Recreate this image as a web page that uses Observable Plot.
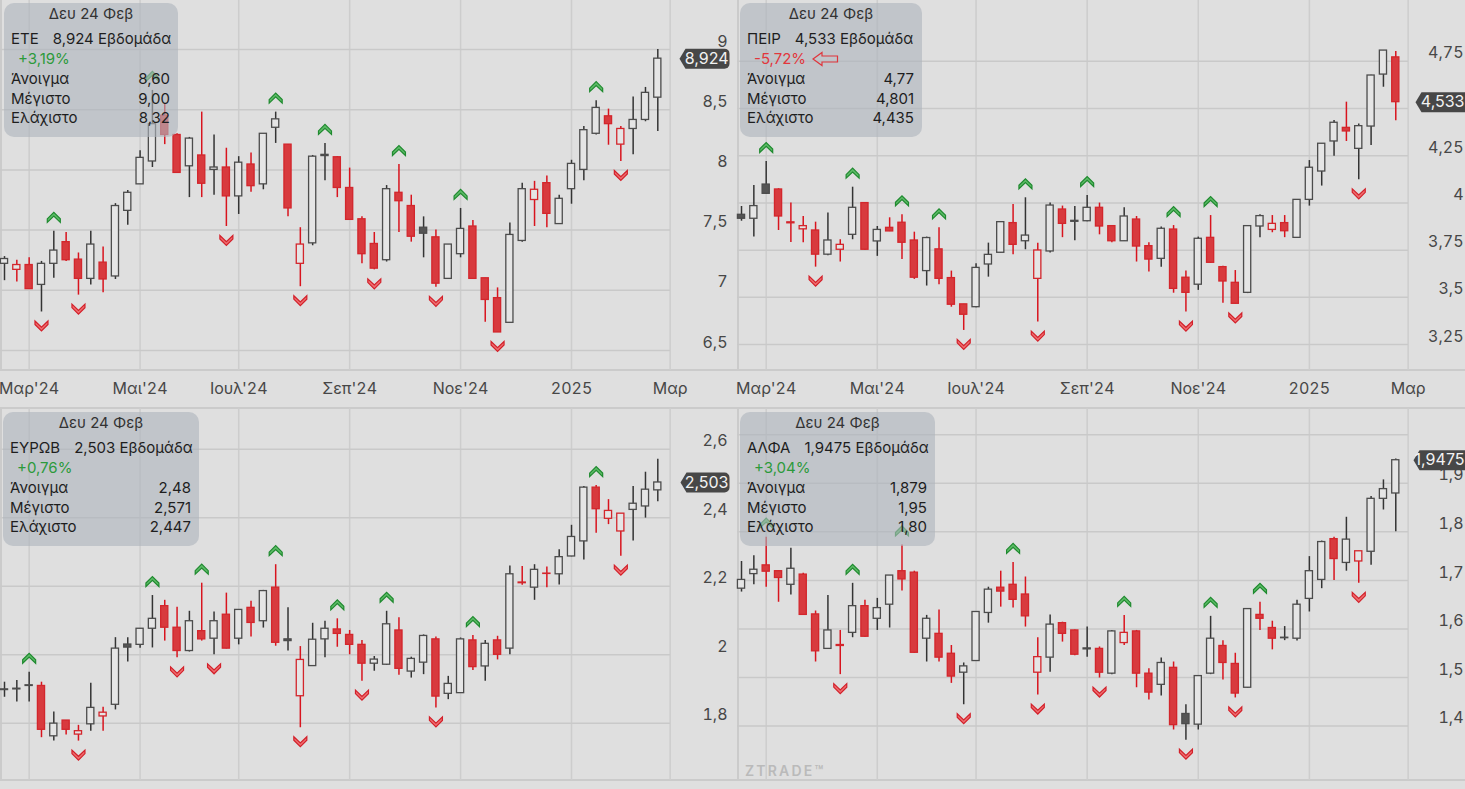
<!DOCTYPE html>
<html><head><meta charset="utf-8">
<script src="https://cdn.jsdelivr.net/npm/d3@7"></script>
<script src="https://cdn.jsdelivr.net/npm/@observablehq/plot@0.6"></script>
<style>
html,body{margin:0;padding:0;background:#dfdfdf;width:1465px;height:789px;overflow:hidden;font-family:Inter,"Noto Sans",sans-serif;}
#root{position:relative;width:1465px;height:789px;}
.panel{position:absolute;}
.hl{position:absolute;height:2px;background:#cbcbcb;}
.vl{position:absolute;width:2px;background:#cbcbcb;}
.box{position:absolute;border-radius:10px;background:rgba(174,181,189,0.62);color:#1e1e1e;font-size:15px;}
.box .ln{position:absolute;left:0;right:0;height:20px;line-height:20px;white-space:nowrap;}
.box .title{text-align:center;color:#333;}
.box .val{position:absolute;right:8px;top:0;}
.wm{position:absolute;left:745px;top:762px;font-size:14px;font-weight:600;letter-spacing:2.2px;color:#bababa;}
</style></head>
<body><div id="root"></div>
<script>
// ---------- shared axis data ----------
const monthIdx = [2, 11, 19, 28, 37, 46, 54];
const monthLabels = ["Μαρ'24", "Μαι'24", "Ιουλ'24", "Σεπ'24", "Νοε'24", "2025", "Μαρ"];

// ---------- ΕΤΕ ----------
const eteO = [7.22,7.17,7.21,7.045,7.22,7.40,7.255,7.095,7.23,7.115,7.66,7.88,8.07,8.45,8.29,8.03,8.12,8.00,8.02,7.78,8.045,7.88,8.35,8.21,7.22,7.39,8.125,8.105,7.85,7.59,7.385,7.25,7.81,7.70,7.52,7.44,7.095,7.30,7.53,7.10,6.935,6.73,7.41,7.75,7.89,7.55,7.84,8.00,8.30,8.445,8.21,8.34,8.415,8.60];
const eteH = [7.28,7.25,7.27,7.24,7.49,7.48,7.31,7.49,7.36,7.72,7.83,8.16,8.66,8.55,8.30,8.27,8.48,8.29,8.18,8.11,8.14,8.30,8.48,8.21,7.52,8.12,8.22,8.11,8.015,7.61,7.48,7.87,8.045,7.79,7.61,7.50,7.38,7.68,7.58,7.10,7.02,7.56,7.89,7.905,7.95,7.79,8.08,8.36,8.575,8.505,8.36,8.605,8.685,9.00];
const eteL = [7.08,7.07,7.01,6.82,7.10,7.24,6.96,7.045,6.98,7.09,7.54,7.88,8.02,8.21,7.97,7.77,7.77,7.79,7.53,7.63,7.815,7.835,8.22,7.61,7.03,7.37,7.91,7.77,7.585,7.22,7.17,7.235,7.48,7.40,7.27,7.025,7.09,7.27,7.095,6.735,6.65,6.73,7.40,7.53,7.52,7.55,7.715,7.91,8.29,8.205,8.07,8.125,8.40,8.32];
const eteC = [7.26,7.21,7.01,7.22,7.33,7.25,7.095,7.38,7.09,7.70,7.81,8.10,8.38,8.29,7.975,8.26,7.885,8.02,7.78,8.06,7.865,8.30,8.42,7.68,7.38,8.11,8.115,7.85,7.585,7.30,7.18,7.84,7.74,7.445,7.47,7.055,7.38,7.51,7.095,6.92,6.65,7.46,7.84,7.835,7.635,7.76,8.05,8.33,8.515,8.38,8.34,8.415,8.64,8.924];
const eteUp = [4,12,22,26,32,37,48];
const eteDown = [3,6,18,24,30,35,40,50];

// ---------- ΠΕΙΡ ----------
const peirO = [3.937,3.916,4.097,4.071,3.897,3.86,3.854,3.726,3.752,3.831,3.999,3.796,3.868,3.895,3.801,3.639,3.754,3.602,3.463,3.448,3.674,3.736,3.893,3.797,3.598,3.743,3.965,3.905,3.903,3.974,3.877,3.797,3.912,3.771,3.704,3.859,3.604,3.567,3.815,3.66,3.577,3.524,3.875,3.857,3.893,3.815,4.016,4.166,4.325,4.397,4.286,4.404,4.679,4.77];
const peirH = [3.981,4.092,4.219,4.075,3.999,3.928,3.898,3.946,3.805,4.083,4.0,3.875,3.921,3.937,3.845,3.819,3.868,3.639,3.463,3.678,3.787,3.90,3.991,4.027,3.787,3.999,3.983,3.981,4.039,3.999,3.88,3.974,3.928,3.789,3.872,3.88,3.639,3.819,3.933,3.665,3.642,3.88,3.937,3.933,3.933,4.016,4.224,4.313,4.436,4.533,4.418,4.675,4.806,4.801];
const peirL = [3.903,3.819,4.045,3.854,3.79,3.789,3.66,3.72,3.687,3.805,3.75,3.717,3.848,3.70,3.595,3.56,3.567,3.448,3.325,3.445,3.607,3.735,3.726,3.752,3.369,3.735,3.816,3.80,3.90,3.831,3.789,3.795,3.687,3.634,3.66,3.522,3.422,3.537,3.68,3.469,3.465,3.52,3.816,3.842,3.816,3.815,3.983,4.089,4.247,4.325,4.122,4.304,4.612,4.435];
const peirC = [3.916,3.983,4.048,3.928,3.892,3.877,3.726,3.801,3.778,3.974,3.752,3.857,3.849,3.789,3.604,3.814,3.598,3.461,3.408,3.656,3.725,3.898,3.778,3.827,3.748,3.986,3.889,3.90,3.974,3.875,3.797,3.928,3.769,3.70,3.863,3.545,3.524,3.81,3.683,3.584,3.466,3.877,3.93,3.889,3.85,4.016,4.186,4.313,4.424,4.378,4.406,4.674,4.806,4.533];
const peirUp = [2,9,13,16,23,28,35,38];
const peirDown = [6,18,24,36,40,50];

// ---------- ΕΥΡΩΒ ----------
const eurobO = [1.899,1.899,1.909,1.909,1.762,1.808,1.767,1.797,1.82,1.854,2.03,2.029,2.076,2.142,2.079,2.011,2.069,2.047,2.117,2.047,2.137,2.098,2.196,2.045,1.879,1.967,2.045,2.074,2.058,2.029,1.974,1.971,2.071,1.951,1.977,2.045,1.886,1.888,2.042,1.966,2.042,2.018,2.211,2.196,2.237,2.235,2.287,2.331,2.488,2.397,2.36,2.423,2.433,2.48];
const eurobH = [1.92,1.925,1.949,1.92,1.833,1.808,1.794,1.917,1.847,2.05,2.05,2.076,2.173,2.159,2.139,2.127,2.209,2.125,2.18,2.131,2.156,2.188,2.263,2.137,2.024,2.092,2.098,2.105,2.071,2.042,1.995,2.127,2.108,1.993,2.058,2.052,1.937,2.049,2.056,2.042,2.054,2.259,2.258,2.263,2.256,2.307,2.378,2.491,2.494,2.453,2.412,2.491,2.533,2.571];
const eurobL = [1.876,1.862,1.862,1.758,1.748,1.766,1.748,1.777,1.777,1.839,1.979,2.019,2.02,2.04,1.991,2.008,2.04,2.0,2.017,2.029,2.052,2.078,2.025,2.011,1.787,1.966,1.991,2.022,2.0,1.923,1.952,1.969,1.94,1.932,1.942,1.845,1.869,1.887,1.954,1.923,1.985,2.0,2.203,2.159,2.196,2.204,2.286,2.277,2.355,2.38,2.288,2.332,2.399,2.447];
const eurobC = [1.897,1.901,1.911,1.781,1.799,1.781,1.777,1.845,1.831,2.018,2.021,2.076,2.105,2.079,2.011,2.098,2.045,2.098,2.018,2.131,2.093,2.186,2.035,2.04,1.985,2.044,2.076,2.061,2.029,1.974,1.986,2.089,1.959,1.988,2.055,1.878,1.915,2.045,1.964,2.032,2.0,2.235,2.209,2.248,2.236,2.285,2.344,2.488,2.425,2.42,2.412,2.441,2.482,2.503];
const eurobUp = [2,12,16,22,27,31,38,48];
const eurobDown = [6,14,17,24,29,35,50];

// ---------- ΑΛΦΑ ----------
const alphaO = [1.683,1.713,1.731,1.719,1.691,1.712,1.63,1.559,1.567,1.592,1.647,1.621,1.65,1.719,1.716,1.58,1.59,1.549,1.51,1.534,1.633,1.685,1.691,1.671,1.51,1.541,1.612,1.597,1.56,1.559,1.508,1.571,1.595,1.508,1.485,1.52,1.425,1.403,1.508,1.565,1.528,1.479,1.629,1.602,1.582,1.58,1.662,1.701,1.785,1.736,1.739,1.759,1.868,1.879];
const alphaH = [1.739,1.751,1.789,1.72,1.766,1.715,1.637,1.669,1.597,1.694,1.659,1.663,1.71,1.773,1.719,1.628,1.639,1.566,1.53,1.635,1.686,1.719,1.737,1.707,1.582,1.629,1.614,1.598,1.604,1.563,1.597,1.628,1.597,1.518,1.54,1.532,1.444,1.504,1.626,1.576,1.55,1.641,1.655,1.616,1.605,1.659,1.749,1.781,1.789,1.83,1.76,1.873,1.907,1.95];
const alphaL = [1.676,1.691,1.686,1.655,1.67,1.628,1.532,1.558,1.506,1.582,1.583,1.597,1.602,1.678,1.55,1.532,1.532,1.488,1.444,1.533,1.612,1.645,1.643,1.604,1.464,1.511,1.573,1.545,1.542,1.499,1.506,1.566,1.479,1.454,1.462,1.392,1.371,1.392,1.506,1.495,1.458,1.478,1.597,1.557,1.576,1.575,1.635,1.683,1.70,1.719,1.694,1.731,1.845,1.80];
const alphaC = [1.701,1.722,1.718,1.705,1.724,1.629,1.554,1.597,1.565,1.647,1.584,1.643,1.71,1.702,1.551,1.621,1.541,1.502,1.523,1.635,1.681,1.677,1.66,1.626,1.542,1.609,1.59,1.547,1.558,1.51,1.595,1.592,1.508,1.469,1.53,1.402,1.404,1.503,1.58,1.53,1.467,1.641,1.621,1.58,1.581,1.65,1.719,1.779,1.744,1.784,1.76,1.868,1.888,1.9475];
const alphaUp = [2,9,13,22,31,38,42];
const alphaDown = [8,18,24,29,36,40,50];

// ---------- info box texts ----------
const boxDate = "Δευ 24 Φεβ";
const boxRowLabels = ["Άνοιγμα", "Μέγιστο", "Ελάχιστο"];
const boxSymbols = ["ΕΤΕ", "ΠΕΙΡ", "ΕΥΡΩΒ", "ΑΛΦΑ"];
const boxPrices = ["8,924", "4,533", "2,503", "1,9475"];
const boxChanges = ["+3,19%", "-5,72%", "+0,76%", "+3,04%"];
const boxValues = [["8,60","9,00","8,32"], ["4,77","4,801","4,435"], ["2,48","2,571","2,447"], ["1,879","1,95","1,80"]];
const periodLabel = "Εβδομάδα";

// ---------- helpers ----------
const root = document.getElementById("root");
const comma = v => String(v).replace(".", ",");

const chevUp = {draw(ctx) {
  ctx.moveTo(-6.5, 1.5); ctx.lineTo(0, -5); ctx.lineTo(6.5, 1.5);
  ctx.lineTo(6.5, 5); ctx.lineTo(0, -1.2); ctx.lineTo(-6.5, 5); ctx.closePath();
}};
const chevDown = {draw(ctx) {
  ctx.moveTo(-6.5, -1.5); ctx.lineTo(0, 5); ctx.lineTo(6.5, -1.5);
  ctx.lineTo(6.5, -5); ctx.lineTo(0, 1.2); ctx.lineTo(-6.5, -5); ctx.closePath();
}};
function badgeSymbol(W) {
  return {draw(ctx) {
    const h = 10, r = 5;
    ctx.moveTo(0, 0); ctx.lineTo(6, -h); ctx.lineTo(W - r, -h);
    ctx.arcTo(W, -h, W, -h + r, r); ctx.lineTo(W, h - r);
    ctx.arcTo(W, h, W - r, h, r); ctx.lineTo(6, h); ctx.closePath();
  }};
}

function panel(cfg) {
  const {O, H, L, C, up, down, yDomain, gridTicks, labelTicks, left, top, width, height,
         marginTop, marginBottom, marginRight, tickPad, showX, badgeDx, badgeW, badgeText} = cfg;
  const data = O.map((o, i) => {
    const prev = i > 0 ? C[i - 1] : null;
    const red = prev !== null && C[i] < prev;
    const filled = C[i] < o;
    return {i, o, h: H[i], l: L[i], c: C[i], red, filled};
  });
  const bodyStroke = d => d.red ? "#d3262c" : "#4c4c4c";
  const bodyFill = d => d.filled ? (d.red ? "#d83a3e" : "#555555") : "#e5e5e5";
  const wick = d => d.red ? "#d8141e" : "#343434";
  const last = C[C.length - 1];
  const marks = [
    Plot.gridX(monthIdx, {stroke: "#cdcdcd", strokeOpacity: 1, strokeWidth: 1.5}),
    Plot.gridY(gridTicks, {stroke: "#c9c9c9", strokeOpacity: 1, strokeWidth: 1.5}),
    Plot.axisY({ticks: labelTicks, anchor: "right", tickSize: 0, tickPadding: tickPad, textAnchor: "end",
      dy: -8, tickFormat: comma, fontSize: 16, fill: "#474747", label: null}),
    Plot.ruleX(data, {x: "i", y1: "l", y2: "h", stroke: wick, strokeWidth: 1.5}),
    Plot.rect(data, {x1: d => d.i - 0.29, x2: d => d.i + 0.29, y1: "o", y2: "c",
      fill: bodyFill, stroke: bodyStroke, strokeWidth: 1.3}),
    Plot.dot(up.map(k => data[k]), {x: "i", y: "h", dy: -14, symbol: chevUp, r: 6,
      fill: "#5dbb67", stroke: "#1f8a2f", strokeWidth: 1.2}),
    Plot.dot(down.map(k => data[k]), {x: "i", y: "l", dy: 14, symbol: chevDown, r: 6,
      fill: "#ee6d6f", stroke: "#d3202a", strokeWidth: 1.2}),
    Plot.dot([last], {y: d => d, frameAnchor: "right", dx: badgeDx, symbol: badgeSymbol(badgeW), r: 6,
      fill: "#474747", stroke: "none"}),
    Plot.text([last], {y: d => d, frameAnchor: "right", dx: tickPad + 1, textAnchor: "end",
      text: () => badgeText, fill: "#f2f2f2", fontSize: 16})
  ];
  if (showX) marks.push(Plot.axisX({ticks: monthIdx, tickFormat: v => monthLabels[monthIdx.indexOf(v)],
    tickSize: 0, tickPadding: 12, fontSize: 16, fill: "#474747", label: null, anchor: "bottom"}));
  const chart = Plot.plot({
    width, height, marginLeft: 0, marginRight, marginTop, marginBottom,
    x: {type: "linear", domain: [-0.3245, 54.03], axis: null},
    y: {domain: yDomain, axis: null},
    color: {type: "identity"},
    style: {background: "transparent", fontFamily: "Inter, 'Noto Sans', sans-serif", overflow: "visible"},
    marks
  });
  const wrap = document.createElement("div");
  wrap.className = "panel";
  wrap.style.left = left + "px"; wrap.style.top = top + "px";
  wrap.appendChild(chart);
  root.appendChild(wrap);
}

function box(k, left, top, w, h, up) {
  const b = document.createElement("div");
  b.className = "box";
  Object.assign(b.style, {left: left + "px", top: top + "px", width: w + "px", height: h + "px"});
  const arrow = up ? "" :
    `<svg width="27" height="16" style="vertical-align:-3px;margin-left:6px" viewBox="0 0 27 16"><polygon points="1,8 10,1.5 10,5 25.5,5 25.5,11 10,11 10,14.5" fill="none" stroke="#e0353b" stroke-width="1.2"/></svg>`;
  b.innerHTML =
    `<div class="ln title" style="top:1px">${boxDate}</div>` +
    `<div class="ln" style="top:26px;padding-left:7px">${boxSymbols[k]}<span style="margin-left:14px">${boxPrices[k]} ${periodLabel}</span></div>` +
    `<div class="ln" style="top:46px;padding-left:14px;color:${up ? "#2c9a3b" : "#e2363c"}">${boxChanges[k]}${arrow}</div>` +
    boxRowLabels.map((t, j) => `<div class="ln" style="top:${66 + j * 19.7}px;padding-left:7px">${t}<span class="val">${boxValues[k][j]}</span></div>`).join("");
  root.appendChild(b);
}

function line(cls, l, t, w, h) {
  const d = document.createElement("div");
  d.className = cls;
  Object.assign(d.style, {left: l + "px", top: t + "px"});
  if (w != null) d.style.width = w + "px";
  if (h != null) d.style.height = h + "px";
  root.appendChild(d);
}

// frame lines
line("hl", 0, 369, 1465, null);
line("hl", 0, 407, 1465, null);
line("hl", 0, 779, 1465, null);
line("vl", 0, 0, null, 370);
line("vl", 737, 0, null, 370);
line("vl", 0, 408, null, 372);
line("vl", 737, 408, null, 372);

panel({O: eteO, H: eteH, L: eteL, C: eteC, up: eteUp, down: eteDown,
  yDomain: [6.334, 9.407], gridTicks: [6.5, 7, 7.5, 8, 8.5, 9], labelTicks: [6.5, 7, 7.5, 8, 8.5, 9],
  left: 0, top: 0, width: 732, height: 400, marginTop: 0, marginBottom: 30, marginRight: 62,
  tickPad: 57, showX: true, badgeDx: 9, badgeW: 50, badgeText: boxPrices[0]});
panel({O: peirO, H: peirH, L: peirL, C: peirC, up: peirUp, down: peirDown,
  yDomain: [3.113, 5.071], gridTicks: [3.25, 3.5, 3.75, 4, 4.25, 4.5, 4.75], labelTicks: [3.25, 3.5, 3.75, 4, 4.25, 4.75],
  left: 737, top: 0, width: 728, height: 400, marginTop: 0, marginBottom: 30, marginRight: 57,
  tickPad: 55, showX: true, badgeDx: 7, badgeW: 56, badgeText: boxPrices[1]});
panel({O: eurobO, H: eurobH, L: eurobL, C: eurobC, up: eurobUp, down: eurobDown,
  yDomain: [1.633, 2.719], gridTicks: [1.8, 2, 2.2, 2.4, 2.6], labelTicks: [1.8, 2, 2.2, 2.4, 2.6],
  left: 0, top: 404, width: 732, height: 385, marginTop: 4, marginBottom: 9, marginRight: 62,
  tickPad: 57, showX: false, badgeDx: 10, badgeW: 49, badgeText: boxPrices[2]});
panel({O: alphaO, H: alphaH, L: alphaL, C: alphaC, up: alphaUp, down: alphaDown,
  yDomain: [1.288, 2.054], gridTicks: [1.4, 1.5, 1.6, 1.7, 1.8, 1.9, 2.0], labelTicks: [1.4, 1.5, 1.6, 1.7, 1.8, 1.9],
  left: 737, top: 404, width: 728, height: 385, marginTop: 4, marginBottom: 9, marginRight: 57,
  tickPad: 55, showX: false, badgeDx: 5, badgeW: 62, badgeText: boxPrices[3]});

box(0, 4, 3, 174, 134, true);
box(1, 740, 3, 182, 134, false);
box(2, 3, 412, 196, 134, true);
box(3, 740, 412, 195, 134, true);

const wm = document.createElement("div");
wm.className = "wm"; wm.textContent = "ZTRADE™";
root.appendChild(wm);
</script>
</body></html>
